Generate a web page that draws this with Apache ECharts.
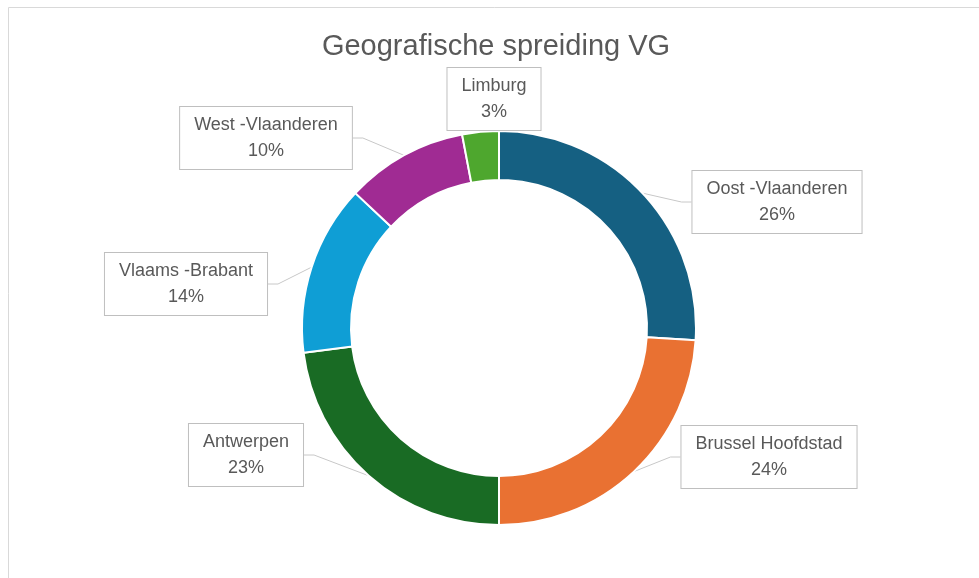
<!DOCTYPE html>
<html>
<head>
<meta charset="utf-8">
<script src="https://cdn.jsdelivr.net/npm/echarts@6/dist/echarts.min.js"></script>
<style>
  html, body { margin: 0; padding: 0; background: #fff; overflow: hidden; }
  #chart { width: 979px; height: 578px; }
</style>
</head>
<body>
<div id="chart"></div>
<script>
// provincies en aandeel (%)
var provinces = ['Oost -Vlaanderen', 'Brussel Hoofdstad', 'Antwerpen', 'Vlaams -Brabant', 'West -Vlaanderen', 'Limburg'];
var shares = [26, 24, 23, 14, 10, 3];
var colors = ['#156082', '#E97132', '#196B24', '#0F9ED5', '#A02B93', '#4EA72E'];

// label box centres (layout only)
var labelPos = [
  [777, 202], [769, 457], [246, 455], [186, 284], [266, 138], [494, 99]
];

var chart = echarts.init(document.getElementById('chart'));

var option = {
  color: colors,
  animation: false,
  title: {
    text: 'Geografische spreiding VG',
    left: 491,
    textAlign: 'center',
    top: 27,
    textStyle: {
      fontFamily: 'Liberation Sans',
      fontWeight: 'normal',
      fontSize: 29,
      color: '#595959'
    }
  },
  graphic: [{
    type: 'rect',
    shape: { x: 8.5, y: 7.5, width: 1000, height: 600 },
    style: { fill: 'none', stroke: '#d9d9d9', lineWidth: 1 }
  }],
  series: [{
    type: 'pie',
    center: [499, 328],
    radius: [148, 197],
    startAngle: 90,
    clockwise: true,
    itemStyle: { borderColor: '#fff', borderWidth: 2 },
    label: {
      show: true,
      formatter: function (p) { return p.name + '\n' + p.value + '%'; },
      fontFamily: 'Liberation Sans',
      fontSize: 18,
      lineHeight: 26,
      color: '#595959',
      backgroundColor: '#fff',
      borderColor: '#bfbfbf',
      borderWidth: 1,
      padding: [5, 14, 5, 14],
      align: 'center'
    },
    labelLine: {
      show: true,
      length: 10,
      length2: 10,
      lineStyle: { color: '#c8c8c8', width: 1 }
    },
    labelLayout: function (params) {
      var p = labelPos[params.dataIndex];
      return { x: p[0], y: p[1], align: 'center', verticalAlign: 'middle' };
    },
    data: provinces.map(function (name, i) {
      return { name: name, value: shares[i] };
    })
  }]
};

chart.setOption(option);
window.onresize = chart.resize;
</script>
</body>
</html>
